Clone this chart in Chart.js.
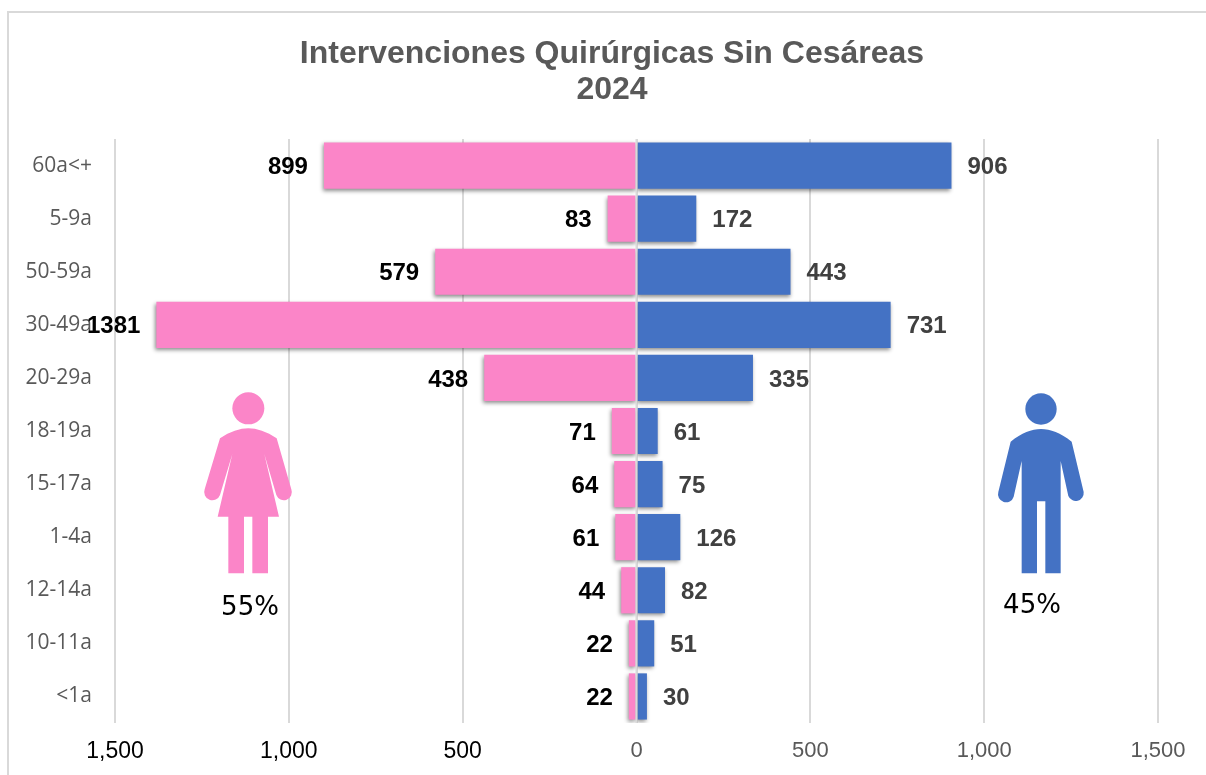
<!DOCTYPE html>
<html>
<head>
<meta charset="utf-8">
<title>Intervenciones Quirúrgicas Sin Cesáreas 2024</title>
<script src="https://cdn.jsdelivr.net/npm/chart.js@4"></script>
<style>
html,body{margin:0;padding:0;background:#fff;overflow:hidden}
#wrap{position:relative;width:1206px;height:775px}
#frame{position:absolute;left:7px;top:11px;right:0;bottom:0;border-left:2px solid #d9d9d9;border-top:2px solid #d9d9d9}
canvas{position:absolute;left:0;top:0}
svg{position:absolute}
.pct{position:absolute;font:26px "DejaVu Sans";color:#000;width:100px;text-align:center;line-height:30px}
</style>
</head>
<body>
<div id="wrap">
 <div id="frame"></div>
 <canvas id="chart" width="1206" height="775"></canvas>
 <svg style="left:180px;top:380px" width="130" height="250" viewBox="0 0 390 750" fill="#fb85c8">
  <circle cx="205" cy="85" r="48"/>
  <path d="M120 175C150 155 180 145 205 145S260 155 290 175L334 328A24 24 0 0 1 289 345L253 222L297 410H264V580H217V410H192V580H145V410H113L157 222L120 345A24 24 0 0 1 74 328Z"/>
 </svg>
 <svg style="left:980px;top:380px" width="226" height="250" viewBox="0 0 678 750" fill="#4472c4">
  <circle cx="183" cy="87" r="47"/>
  <path d="M92 185C125 158 155 147 183 147S242 158 275 185L311 336A24 24 0 0 1 265 348L242 243V580H196V364H171V580H125V243L101 350A24 24 0 0 1 55 336Z"/>
 </svg>
 <div class="pct" style="left:200px;top:591px">55%</div>
 <div class="pct" style="left:982px;top:589px">45%</div>
</div>
<script>
const categories=['60a<+','5-9a','50-59a','30-49a','20-29a','18-19a','15-17a','1-4a','12-14a','10-11a','<1a'];
const mujeres=[899,83,579,1381,438,71,64,61,44,22,22];
const hombres=[906,172,443,731,335,61,75,126,82,51,30];
const titleLines=['Intervenciones Quirúrgicas Sin Cesáreas','2024'];

const pink='#fb85c8',blue='#4472c4',gridColor='#d9d9d9';

// sombra de las barras, etiquetas y linea del cero encima
const barExtras={
 id:'barExtras',
 beforeDatasetDraw(c){
  const x=c.ctx;
  x.save();
  x.shadowColor='rgba(0,0,0,0.45)';
  x.shadowBlur=4;
  x.shadowOffsetX=-1;
  x.shadowOffsetY=2;
 },
 afterDatasetDraw(c){c.ctx.restore()},
 afterDatasetsDraw(c){
  const x=c.ctx,sx=c.scales.x,a=c.chartArea;
  x.save();
  x.strokeStyle=gridColor;
  x.lineWidth=2;
  x.beginPath();
  x.moveTo(sx.getPixelForValue(0),a.top);
  x.lineTo(sx.getPixelForValue(0),a.bottom);
  x.stroke();
  x.font='bold 24px "Liberation Sans"';
  x.textBaseline='middle';
  c.getDatasetMeta(0).data.forEach((b,i)=>{
   x.textAlign='right';
   x.fillStyle='#000';
   x.fillText(mujeres[i],b.x-16,b.y+2);
  });
  c.getDatasetMeta(1).data.forEach((b,i)=>{
   x.textAlign='left';
   x.fillStyle='#404040';
   x.fillText(hombres[i],b.x+16,b.y+2);
  });
  x.restore();
 }
};

new Chart(document.getElementById('chart'),{
 type:'bar',
 data:{labels:categories,datasets:[
  {label:'Mujeres',data:mujeres.map(v=>-v),backgroundColor:pink,barPercentage:0.87,categoryPercentage:1},
  {label:'Hombres',data:hombres,backgroundColor:blue,barPercentage:0.87,categoryPercentage:1}
 ]},
 plugins:[barExtras],
 options:{
  indexAxis:'y',
  responsive:false,
  animation:false,
  layout:{padding:{left:18,right:0,top:0,bottom:11}},
  plugins:{
   legend:{display:false},
   tooltip:{enabled:false},
   title:{display:true,text:titleLines,color:'#595959',
    font:{family:'"Liberation Sans"',size:32,weight:'bold',lineHeight:1.125},
    padding:{top:36,bottom:31}}
  },
  scales:{
   x:{
    stacked:true,min:-1500,max:1500,
    afterFit(s){s.height=41},
    grid:{color:gridColor,lineWidth:2,drawTicks:false},
    border:{display:false},
    ticks:{stepSize:500,maxRotation:0,padding:15,
     color:c=>c.tick.value<0?'#000':'#595959',
     font:c=>({family:'"Liberation Sans"',size:c.tick&&c.tick.value<0?23:22}),
     callback:v=>Math.abs(v).toLocaleString('en-US')}
   },
   y:{
    stacked:true,
    afterFit(s){s.width=97},
    grid:{display:false},
    border:{display:false},
    ticks:{padding:15,color:'#595959',autoSkip:false,
     font:{family:'"Open Sans"',size:21}}
   },
   // eje vacio, solo deja el margen derecho
   y2:{
    type:'category',position:'right',
    afterFit(s){s.width=48},
    grid:{display:false},
    border:{display:false},
    ticks:{display:false}
   }
  }
 }
});
</script>
</body>
</html>
